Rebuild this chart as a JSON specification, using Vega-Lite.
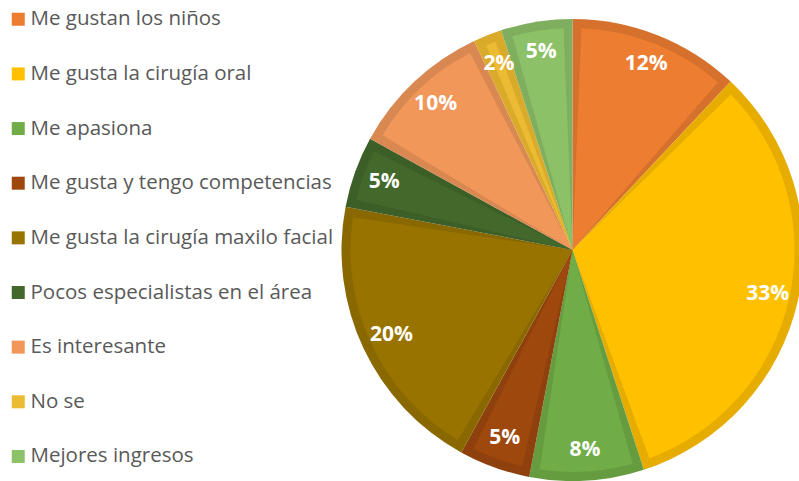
{
  "$schema": "https://vega.github.io/schema/vega-lite/v6.json",
  "autosize": {"type": "none"},
  "padding": {"left": 346, "top": 19, "right": 0, "bottom": 0},
  "width": 453,
  "height": 462,
  "background": "white",
  "data": {
    "values": [
      {"motivo": "Me gustan los niños", "p": 0.12, "n": 1},
      {"motivo": "Me gusta la cirugía oral", "p": 0.33, "n": 2},
      {"motivo": "Me apasiona", "p": 0.08, "n": 3},
      {"motivo": "Me gusta y tengo competencias", "p": 0.05, "n": 4},
      {"motivo": "Me gusta la cirugía maxilo facial", "p": 0.20, "n": 5},
      {"motivo": "Pocos especialistas en el área", "p": 0.05, "n": 6},
      {"motivo": "Es interesante", "p": 0.10, "n": 7},
      {"motivo": "No se", "p": 0.02, "n": 8},
      {"motivo": "Mejores ingresos", "p": 0.05, "n": 9}
    ]
  },
  "encoding": {
    "theta": {"field": "p", "type": "quantitative", "stack": true},
    "order": {"field": "n", "type": "quantitative"}
  },
  "layer": [
    {
      "mark": {"type": "arc", "outerRadius": 231},
      "encoding": {
        "fill": {
          "field": "motivo", "type": "nominal", "legend": null,
          "scale": {
            "domain": ["Me gustan los niños", "Me gusta la cirugía oral", "Me apasiona", "Me gusta y tengo competencias", "Me gusta la cirugía maxilo facial", "Pocos especialistas en el área", "Es interesante", "No se", "Mejores ingresos"],
            "range": ["#D5712C", "#E6AD00", "#659C40", "#8E410D", "#8A6800", "#3C5E27", "#D98851", "#DAAA2A", "#7EAE5E"]
          }
        }
      }
    },
    {
      "mark": {"type": "arc", "outerRadius": 222, "padAngle": 0.08},
      "encoding": {
        "color": {
          "field": "motivo", "type": "nominal",
          "scale": {
            "domain": ["Me gustan los niños", "Me gusta la cirugía oral", "Me apasiona", "Me gusta y tengo competencias", "Me gusta la cirugía maxilo facial", "Pocos especialistas en el área", "Es interesante", "No se", "Mejores ingresos"],
            "range": ["#ED7D31", "#FFC000", "#70AD47", "#9E480E", "#997300", "#43682B", "#F1975A", "#EBBB33", "#8CC168"]
          },
          "legend": {
            "title": null,
            "orient": "none",
            "legendX": -338,
            "legendY": -10,
            "padding": 0,
            "symbolType": "square",
            "symbolSize": 169,
            "symbolStrokeWidth": 0,
            "labelFont": "Open Sans",
            "labelFontSize": 20.5,
            "labelColor": "#595959",
            "labelOffset": 2,
            "labelLimit": 330,
            "rowPadding": 33.65
          }
        }
      }
    },
    {
      "mark": {"type": "text", "radius": 200, "font": "Open Sans", "fontWeight": "bold", "fontSize": 21, "fill": "white"},
      "encoding": {
        "text": {"field": "p", "type": "quantitative", "format": ".0%"}
      }
    }
  ],
  "resolve": {"scale": {"color": "independent", "fill": "independent"}},
  "config": {"view": {"stroke": null}}
}
